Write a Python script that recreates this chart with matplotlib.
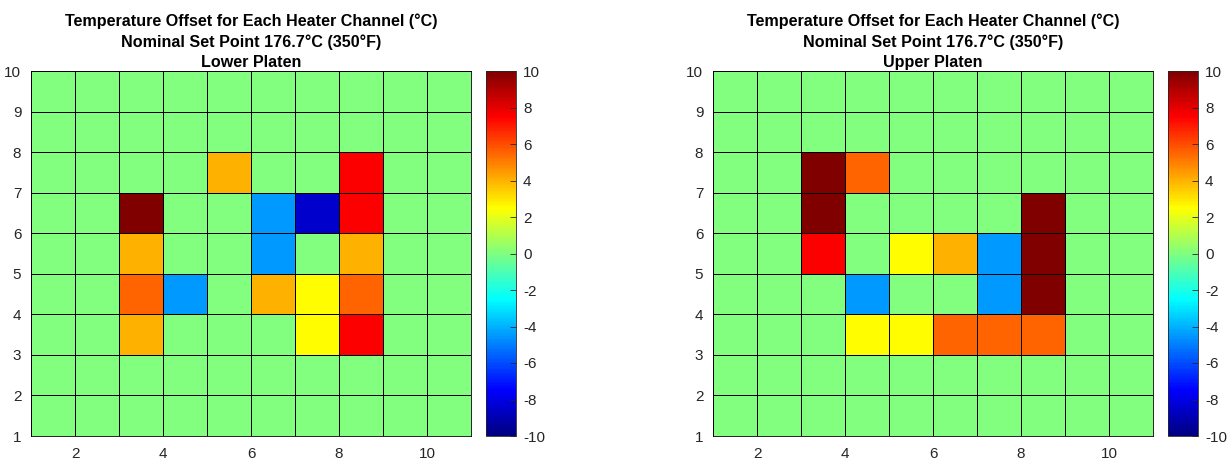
import numpy as np
import matplotlib.pyplot as plt
from matplotlib.colors import ListedColormap

# grid edges (MATLAB pcolor style: 10 columns, 9 rows)
x_edges = np.arange(1, 12)
y_edges = np.arange(1, 11)

# temperature offsets (deg C), rows y=1..9 (bottom to top), cols x=1..10
lower = np.array([
    [0, 0, 0,   0,    0, 0,    0,    0,   0, 0],   # y 1-2
    [0, 0, 0,   0,    0, 0,    0,    0,   0, 0],   # y 2-3
    [0, 0, 4,   0,    0, 0,    2.5,  7.5, 0, 0],   # y 3-4
    [0, 0, 5.5, -4.5, 0, 4,    2.5,  5.5, 0, 0],   # y 4-5
    [0, 0, 4,   0,    0, -4.5, 0,    4,   0, 0],   # y 5-6
    [0, 0, 10,  0,    0, -4.5, -8.5, 7.5, 0, 0],   # y 6-7
    [0, 0, 0,   0,    4, 0,    0,    7.5, 0, 0],   # y 7-8
    [0, 0, 0,   0,    0, 0,    0,    0,   0, 0],   # y 8-9
    [0, 0, 0,   0,    0, 0,    0,    0,   0, 0],   # y 9-10
])

upper = np.array([
    [0, 0, 0,   0,    0,   0,   0,    0,   0, 0],
    [0, 0, 0,   0,    0,   0,   0,    0,   0, 0],
    [0, 0, 0,   2.5,  2.5, 5.5, 5.5,  5.5, 0, 0],
    [0, 0, 0,   -4.5, 0,   0,   -4.5, 10,  0, 0],
    [0, 0, 7.5, 0,    2.5, 4,   -4.5, 10,  0, 0],
    [0, 0, 10,  0,    0,   0,   0,    10,  0, 0],
    [0, 0, 10,  5.5,  0,   0,   0,    0,   0, 0],
    [0, 0, 0,   0,    0,   0,   0,    0,   0, 0],
    [0, 0, 0,   0,    0,   0,   0,    0,   0, 0],
])

titles = ['Lower Platen', 'Upper Platen']
cb_ticks = np.arange(-10, 11, 2)

# MATLAB style jet
t = np.linspace(0, 1, 256)
r = np.clip(1.5 - np.abs(4*t - 3), 0, 1)
g = np.clip(1.5 - np.abs(4*t - 2), 0, 1)
b = np.clip(1.5 - np.abs(4*t - 1), 0, 1)
jet = ListedColormap(np.column_stack([r, g, b]))

plt.rcParams['font.family'] = ['Liberation Sans', 'DejaVu Sans']
plt.rcParams['axes.unicode_minus'] = False
grey = '#262626'

fig = plt.figure(figsize=(12.31, 4.62), dpi=100)
W, H = 1231, 462
ax_pos = [31, 713]
cb_pos = [486, 1168]
top, bot = 71, 436

for i, data in enumerate([lower, upper]):
    ax = fig.add_axes([ax_pos[i]/W, 1 - bot/H, 440/W, (bot - top)/H])
    cax = fig.add_axes([cb_pos[i]/W, 1 - bot/H, 30/W, (bot - top)/H])
    pc = ax.pcolormesh(x_edges, y_edges, data, cmap=jet, vmin=-10, vmax=10,
                       edgecolor='black', linewidth=0.5)
    ax.set_xlim(1, 11)
    ax.set_ylim(1, 10)
    ax.set_xticks([2, 4, 6, 8, 10])
    ax.set_yticks(range(1, 11))
    ax.tick_params(length=0, labelsize=11, colors=grey)
    ax.tick_params(axis='x', pad=8)
    ax.tick_params(axis='y', pad=7)
    for s in ax.spines.values():
        s.set_color('black')
        s.set_linewidth(0.6)
    ax.set_title('Temperature Offset for Each Heater Channel (°C)\n'
                 'Nominal Set Point 176.7°C (350°F)\n' + titles[i],
                 fontsize=11.6, fontweight='bold', linespacing=1.42, pad=3)
    cb = fig.colorbar(pc, cax=cax, ticks=cb_ticks)
    cb.outline.set_edgecolor(grey)
    cb.outline.set_linewidth(0.6)
    cax.tick_params(direction='in', length=4, width=0.6, labelsize=11,
                    colors=grey, pad=5)

fig.savefig('out.png', dpi=100)
